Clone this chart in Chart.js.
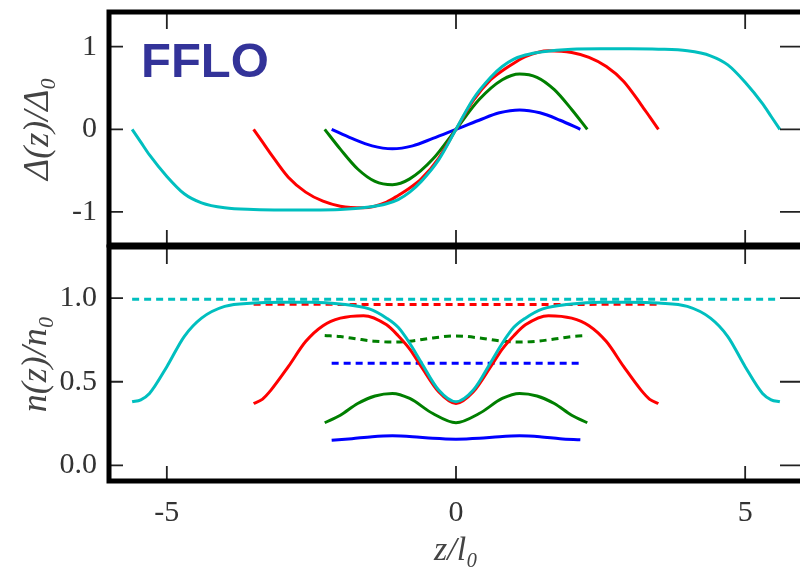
<!DOCTYPE html>
<html>
<head>
<meta charset="utf-8">
<script src="https://cdn.jsdelivr.net/npm/chart.js@4.4.1/dist/chart.umd.min.js"></script>
<style>
  html, body { margin: 0; padding: 0; background: #fff; overflow: hidden; width: 800px; height: 568px; }
  #topBox { position: absolute; left: 0; top: 0; width: 806px; height: 250px; }
  #bottomBox { position: absolute; left: 0; top: 240px; width: 806px; height: 328px; }
</style>
</head>
<body>
<div id="topBox"><canvas id="gapChart" width="806" height="250"></canvas></div>
<div id="bottomBox"><canvas id="densityChart" width="806" height="328"></canvas></div>
<script>
// z positions of the sampled points, one set per curve (z / l0)
var zBlue  = [-2.15, -1.8, -1.45, -1.1, -0.75, -0.4, 0, 0.4, 0.75, 1.1, 1.45, 1.8, 2.15];
var zGreen = [-2.27, -2.0, -1.7, -1.4, -1.1, -0.8, -0.4, 0, 0.4, 0.8, 1.1, 1.4, 1.7, 2.0, 2.27];
var zRed   = [-3.5, -3.35, -3.2, -2.9, -2.6, -2.3, -2.0, -1.6, -1.2, -1.0, -0.8, -0.6, -0.3, 0,
              0.3, 0.6, 0.8, 1.0, 1.2, 1.6, 2.0, 2.3, 2.6, 2.9, 3.2, 3.35, 3.5];
var zCyan  = [-5.6, -5.45, -5.3, -5.0, -4.7, -4.4, -4.0, -3.5, -3.0, -2.5, -2.0, -1.5, -1.2, -1.0, -0.8, -0.6, -0.3, 0,
              0.3, 0.6, 0.8, 1.0, 1.2, 1.5, 2.0, 2.5, 3.0, 3.5, 4.0, 4.4, 4.7, 5.0, 5.3, 5.45, 5.6];

// order parameter Delta(z)/Delta0
var gapBlue  = [0, -0.11, -0.2, -0.235, -0.2, -0.11, 0, 0.11, 0.2, 0.235, 0.2, 0.11, 0];
var gapGreen = [0, -0.24, -0.48, -0.63, -0.67, -0.6, -0.36, 0, 0.36, 0.6, 0.67, 0.63, 0.48, 0.24, 0];
var gapRed   = [0, -0.15, -0.3, -0.58, -0.76, -0.87, -0.93, -0.95, -0.88, -0.8, -0.71, -0.6, -0.35, 0,
                0.35, 0.6, 0.71, 0.8, 0.88, 0.95, 0.93, 0.87, 0.76, 0.58, 0.3, 0.15, 0];
var gapCyan  = [0, -0.155, -0.31, -0.57, -0.78, -0.89, -0.95, -0.97, -0.975, -0.975, -0.97, -0.94, -0.9, -0.85, -0.76, -0.63, -0.37, 0,
                0.37, 0.63, 0.76, 0.85, 0.9, 0.94, 0.97, 0.975, 0.975, 0.97, 0.95, 0.89, 0.78, 0.57, 0.31, 0.155, 0];

// density n(z)/n0, solid lines
var denBlue  = [0.15, 0.16, 0.172, 0.177, 0.172, 0.162, 0.157, 0.162, 0.172, 0.177, 0.172, 0.16, 0.153];
var denGreen = [0.255, 0.3, 0.37, 0.415, 0.43, 0.4, 0.31, 0.255, 0.31, 0.4, 0.43, 0.415, 0.37, 0.3, 0.255];
var denRed   = [0.37, 0.395, 0.45, 0.59, 0.74, 0.835, 0.88, 0.895, 0.84, 0.775, 0.695, 0.59, 0.44, 0.37,
                0.44, 0.59, 0.695, 0.775, 0.84, 0.895, 0.88, 0.835, 0.74, 0.59, 0.45, 0.395, 0.37];
var denCyan  = [0.38, 0.392, 0.43, 0.59, 0.77, 0.88, 0.95, 0.97, 0.975, 0.975, 0.965, 0.935, 0.88, 0.825, 0.73, 0.615, 0.45, 0.38,
                0.45, 0.615, 0.73, 0.825, 0.88, 0.935, 0.965, 0.975, 0.975, 0.97, 0.95, 0.88, 0.77, 0.59, 0.43, 0.392, 0.38];

// density n(z)/n0, dashed lines
var denBlueDash  = [0.61, 0.61, 0.61, 0.61, 0.61, 0.61, 0.61, 0.61, 0.61, 0.61, 0.61, 0.61, 0.61];
var denGreenDash = [0.776, 0.77, 0.755, 0.742, 0.737, 0.742, 0.762, 0.774, 0.762, 0.742, 0.737, 0.742, 0.755, 0.77, 0.776];
var denRedDash   = [0.963, 0.963, 0.963, 0.963, 0.963, 0.963, 0.962, 0.962, 0.962, 0.962, 0.962, 0.962, 0.962, 0.962,
                    0.962, 0.962, 0.962, 0.962, 0.962, 0.962, 0.962, 0.962, 0.963, 0.963, 0.963, 0.963, 0.963];
var denCyanDash  = [0.993, 0.993, 0.993, 0.993, 0.993, 0.993, 0.993, 0.993, 0.993, 0.993, 0.993, 0.993, 0.993, 0.993, 0.993, 0.993, 0.993, 0.993,
                    0.993, 0.993, 0.993, 0.993, 0.993, 0.993, 0.993, 0.993, 0.993, 0.993, 0.993, 0.993, 0.993, 0.993, 0.993, 0.993, 0.993];

// ticks
var xTicks = [-5, 0, 5];
var gapTicks = [-1, 0, 1];
var denTicks = [0, 0.5, 1];

var colBlue = '#0000ff', colGreen = '#007f00', colRed = '#ff0000', colCyan = '#00bfbf';
var serif = "'Liberation Serif', 'DejaVu Serif', serif";

function pts(zs, vs) {
    return zs.map(function(z, i) { return {x: z, y: vs[i]}; });
}

function line(zs, vs, color, order, dashed) {
    return {
        data: pts(zs, vs),
        borderColor: color,
        borderWidth: 3,
        borderDash: dashed ? [7, 5] : [],
        pointRadius: 0,
        cubicInterpolationMode: 'monotone',
        fill: false,
        order: order
    };
}

// keep the y axis a fixed width and stop it from padding the chart area
function fixY(s) {
    s.width = 109;
    s.paddingTop = 0;
    s.paddingBottom = 0;
}

// frame and inward tick marks, like the original figure
var framePlugin = {
    id: 'frame',
    afterDraw: function(chart) {
        var c = chart.ctx, a = chart.chartArea;
        var xs = chart.scales.x, ys = chart.scales.y;
        var yt = chart.canvas.id === 'gapChart' ? gapTicks : denTicks;
        c.save();
        c.strokeStyle = '#222';
        c.lineWidth = 1.8;
        c.beginPath();
        xTicks.forEach(function(v) {
            var px = xs.getPixelForValue(v);
            c.moveTo(px, a.top); c.lineTo(px, a.top + 17);
            c.moveTo(px, a.bottom); c.lineTo(px, a.bottom - 15);
        });
        yt.forEach(function(v) {
            var py = ys.getPixelForValue(v);
            c.moveTo(a.left, py); c.lineTo(a.left + 14, py);
            c.moveTo(a.right, py); c.lineTo(a.right - 23, py);
        });
        c.stroke();
        c.strokeStyle = '#000';
        c.lineWidth = 5;
        c.strokeRect(a.left, a.top, a.right - a.left, a.bottom - a.top);
        if (chart.canvas.id === 'gapChart') {
            c.fillStyle = '#333399';
            c.font = "bold 49px 'Liberation Sans', Arial, sans-serif";
            c.textBaseline = 'alphabetic';
            c.fillText('FFLO', a.left + 32, 77);
        }
        c.restore();
    }
};

document.addEventListener('DOMContentLoaded', function() {
    var ctxTop = document.getElementById('gapChart').getContext('2d');
    var ctxBottom = document.getElementById('densityChart').getContext('2d');

    var gapChart = new Chart(ctxTop, {
        type: 'line',
        data: {
            datasets: [
                line(zBlue, gapBlue, colBlue, 4),
                line(zGreen, gapGreen, colGreen, 3),
                line(zRed, gapRed, colRed, 2),
                line(zCyan, gapCyan, colCyan, 1)
            ]
        },
        options: {
            responsive: false,
            animation: false,
            layout: { padding: { top: 12, bottom: 5, left: 0, right: 3 } },
            plugins: { legend: { display: false }, tooltip: { enabled: false } },
            scales: {
                x: { type: 'linear', min: -6, max: 6, display: false },
                y: {
                    min: -1.4, max: 1.42,
                    afterFit: fixY,
                    afterBuildTicks: function(s) { s.ticks = gapTicks.map(function(v) { return {value: v}; }); },
                    grid: { display: false, drawTicks: false },
                    border: { display: false },
                    ticks: { padding: 12, color: '#333', font: { family: serif, size: 30 } },
                    title: {
                        display: true, text: 'Δ(z)/Δ₀', color: '#444',
                        font: { family: serif, size: 36, style: 'italic' },
                        padding: { top: 17 }
                    }
                }
            }
        },
        plugins: [framePlugin]
    });

    var densityChart = new Chart(ctxBottom, {
        type: 'line',
        data: {
            datasets: [
                line(zBlue, denBlueDash, colBlue, 8, true),
                line(zGreen, denGreenDash, colGreen, 7, true),
                line(zRed, denRedDash, colRed, 6, true),
                line(zCyan, denCyanDash, colCyan, 5, true),
                line(zBlue, denBlue, colBlue, 4),
                line(zGreen, denGreen, colGreen, 3),
                line(zRed, denRed, colRed, 2),
                line(zCyan, denCyan, colCyan, 1)
            ]
        },
        options: {
            responsive: false,
            animation: false,
            layout: { padding: { top: 7, bottom: 0, left: 0, right: 3 } },
            plugins: { legend: { display: false }, tooltip: { enabled: false } },
            scales: {
                x: {
                    type: 'linear', min: -6, max: 6,
                    afterFit: function(s) { s.height = 87; s.paddingLeft = 0; s.paddingRight = 0; },
                    afterBuildTicks: function(s) { s.ticks = xTicks.map(function(v) { return {value: v}; }); },
                    grid: { display: false, drawTicks: false },
                    border: { display: false },
                    ticks: { padding: 14, color: '#333', maxRotation: 0, font: { family: serif, size: 30 } },
                    title: {
                        display: true, text: 'z/l₀', color: '#444',
                        font: { family: serif, size: 34, style: 'italic', lineHeight: 1 },
                        padding: { top: 0, bottom: 0 }
                    }
                },
                y: {
                    min: -0.093, max: 1.305,
                    afterFit: fixY,
                    afterBuildTicks: function(s) { s.ticks = denTicks.map(function(v) { return {value: v}; }); },
                    grid: { display: false, drawTicks: false },
                    border: { display: false },
                    ticks: {
                        padding: 12, color: '#333', font: { family: serif, size: 30 },
                        callback: function(v) { return v.toFixed(1); }
                    },
                    title: {
                        display: true, text: 'n(z)/n₀', color: '#444',
                        font: { family: serif, size: 36, style: 'italic' },
                        padding: { top: 15 }
                    }
                }
            }
        },
        plugins: [framePlugin]
    });
});
</script>
</body>
</html>
